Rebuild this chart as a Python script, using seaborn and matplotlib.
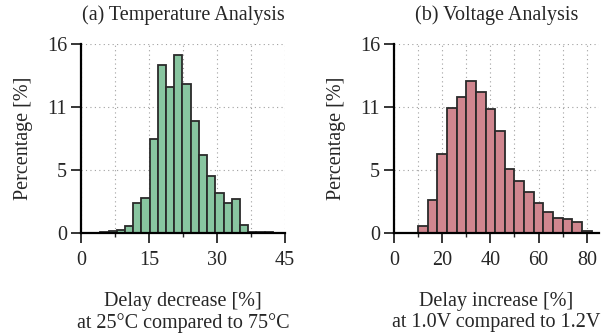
import numpy as np
import pandas as pd
import matplotlib
matplotlib.use('Agg')
import matplotlib.pyplot as plt
from matplotlib.ticker import MultipleLocator, FixedLocator, FormatStrFormatter
import seaborn as sns

# (a) temperature: bin edges start + width, percentage per bin
temp_start = 4.3
temp_width = 1.81
temp_pct = [0.08, 0.14, 0.25, 0.6, 2.5, 3.0, 8.0, 14.2, 12.4, 15.1, 12.6,
            9.5, 6.6, 4.8, 3.4, 2.5, 2.9, 0.7, 0.08, 0.05, 0.05]

# (b) voltage
volt_start = 10
volt_width = 4
volt_pct = [0.56, 2.8, 6.7, 10.6, 11.5, 12.9, 11.9, 10.5, 8.6, 5.4, 4.4,
            3.5, 2.5, 1.8, 1.3, 1.2, 0.93, 0.2]

titles = ['(a) Temperature Analysis', '(b) Voltage Analysis']
xlabels = ['Delay decrease [%]\nat 25°C compared to 75°C',
           'Delay increase [%]\nat 1.0V compared to 1.2V']
colors = ['#88c5a0', '#d0868f']

sns.set_style('white')
plt.rcParams['font.family'] = ['Liberation Serif', 'DejaVu Serif']
plt.rcParams['font.size'] = 14.5

fig = plt.figure(figsize=(6.07, 3.35), dpi=100)
ax1 = fig.add_axes([0.1334, 0.3045, 0.336, 0.564])
ax2 = fig.add_axes([0.649, 0.3045, 0.3375, 0.564])


def make_df(start, width, pct):
    n = len(pct)
    centers = start + width * (np.arange(n) + 0.5)
    return pd.DataFrame({'x': centers, 'pct': pct}), (start, start + width * n)


setup = [
    (ax1, temp_start, temp_width, temp_pct, (0, 45), [0, 15, 30, 45], 7.5),
    (ax2, volt_start, volt_width, volt_pct, (0, 85), [0, 20, 40, 60, 80], 10),
]

for i, (ax, start, width, pct, xlim, major, minor) in enumerate(setup):
    df, brange = make_df(start, width, pct)
    sns.histplot(data=df, x='x', weights='pct', binwidth=width, binrange=brange,
                 ax=ax, color=colors[i], alpha=1, edgecolor='#2a2a2a', linewidth=1.3)
    ax.set_xlim(*xlim)
    ax.set_ylim(0, 16)
    ax.xaxis.set_major_locator(FixedLocator(major))
    ax.xaxis.set_minor_locator(MultipleLocator(minor))
    ax.yaxis.set_major_locator(FixedLocator([0, 16 / 3, 32 / 3, 16]))
    ax.yaxis.set_major_formatter(FormatStrFormatter('%.0f'))
    ax.grid(True, which='both', linestyle=(0, (1, 3)), color='#a0a0a0', linewidth=0.8)
    ax.set_axisbelow(True)
    for s in ['top', 'right']:
        ax.spines[s].set_visible(False)
    for s in ['left', 'bottom']:
        ax.spines[s].set_linewidth(1.6)
        ax.spines[s].set_color('black')
    ax.tick_params(which='major', direction='out', length=7, width=1.3,
                   bottom=True, left=True)
    ax.tick_params(axis='x', which='major', pad=6)
    ax.tick_params(axis='y', which='major', pad=3)
    ax.tick_params(which='minor', direction='out', length=3, width=1.0, bottom=True)
    ax.set_title(titles[i], fontsize=14.5, pad=17)
    ax.set_xlabel(xlabels[i], labelpad=16, linespacing=1.1)
    ax.set_ylabel('Percentage [%]', labelpad=10)

fig.savefig('out.png', dpi=100)
